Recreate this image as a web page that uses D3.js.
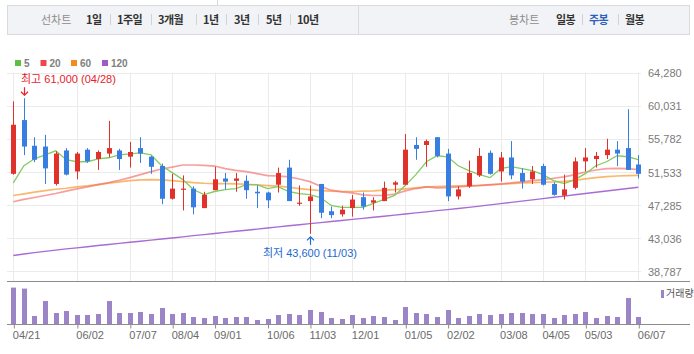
<!DOCTYPE html>
<html>
<head>
<meta charset="utf-8">
<script src="https://cdn.jsdelivr.net/npm/d3@7"></script>
<style>
body { margin: 0; background: #fff; }
svg { display: block; }
</style>
</head>
<body>
<div id="chart"></div>
<script>
var weeks = ['2023-04-21','2023-04-28','2023-05-04','2023-05-12','2023-05-19','2023-05-26','2023-06-02','2023-06-09','2023-06-16','2023-06-23',
    '2023-06-30','2023-07-07','2023-07-14','2023-07-21','2023-07-28','2023-08-04','2023-08-11','2023-08-18','2023-08-25','2023-09-01',
    '2023-09-08','2023-09-15','2023-09-22','2023-09-27','2023-10-06','2023-10-13','2023-10-20','2023-10-27','2023-11-03','2023-11-10',
    '2023-11-17','2023-11-24','2023-12-01','2023-12-08','2023-12-15','2023-12-22','2023-12-28','2024-01-05','2024-01-12','2024-01-19',
    '2024-01-26','2024-02-02','2024-02-08','2024-02-16','2024-02-23','2024-02-29','2024-03-08','2024-03-15','2024-03-22','2024-03-29',
    '2024-04-05','2024-04-12','2024-04-19','2024-04-26','2024-05-03','2024-05-10','2024-05-17','2024-05-24','2024-05-31','2024-06-07'];

var openP = [51300,58200,54900,54800,50000,54300,51600,54400,53200,53900,54300,53500,54600,53500,52300,48100,49300,49400,46900,49200,
    50700,50400,50400,49000,48900,49900,52100,47500,47800,50000,46500,46100,46900,48300,47600,47800,49900,49900,55000,55000,
    56000,53900,48400,49700,51100,54000,51600,53400,51400,50600,52300,50000,48500,49500,52900,53200,53700,54400,54600,52500];
var highP = [60600,61000,56000,56300,54200,54600,54100,54600,54300,58100,54500,55400,56000,53600,52600,51300,51100,49700,49000,52200,
    51400,51400,51100,49800,49000,52100,53100,49800,49800,50000,47100,47200,48600,48900,48300,50300,50400,56400,56000,55700,
    56000,54500,49700,53000,54600,54300,54100,55500,52000,52300,52600,50200,51200,53400,54600,54100,55800,55500,59600,53700];
var lowP = [51200,53700,52800,50000,49800,51100,50600,52700,51800,53400,51800,52100,52700,51300,47400,48000,46600,46100,46900,49200,
    49300,49000,48100,46900,46900,48900,47800,47200,43600,45600,45600,45800,45800,46700,46600,47800,48900,49900,53100,52200,
    53400,47800,48000,49500,50900,51200,50300,50600,49400,50000,49800,48500,48000,49300,51600,52100,53200,52300,51800,50700];
var closeP = [57600,54800,53100,52000,53900,51200,53900,52900,54100,54600,53200,54100,53900,52200,48100,49400,49400,47000,48600,50600,
    50300,50700,49200,48800,47900,51400,47800,47600,48400,46300,46000,46700,48000,47100,47900,49500,50200,54400,54500,55500,
    53600,48400,49300,51400,53600,51300,53400,51100,50300,51600,49900,48600,49300,52900,53400,53600,54400,53900,51800,51300];

// moving averages
var ma5 = [50130,52340,53230,53740,54250,53110,52850,52850,53230,53360,53740,53870,54000,53740,52340,51450,50560,49280,48640,49030,
    49280,49410,49920,49920,49410,49660,49030,48770,48640,48260,47240,46990,46990,46990,47500,48010,48520,49790,51190,52850,
    53620,53490,52340,51700,51190,50810,51960,52210,51960,51700,51190,50430,50050,50560,51320,52340,52850,53620,53490,53110];
var ma20 = [47710,48010,48260,48520,48770,49070,49370,49620,49920,50170,50470,50810,51190,51580,51920,52170,52430,52430,52380,52300,
    51960,51750,51580,51320,51070,51020,50900,50640,50300,49710,49200,48980,48860,48600,48520,48520,48690,49110,49410,49620,
    49490,49540,49620,49710,49790,49880,50000,50130,50260,50430,50560,50730,50900,51190,51530,51790,51960,52000,51960,51830];
var ma60 = [48520,48730,48940,49150,49320,49450,49620,49750,49920,50090,50260,50430,50510,50560,50510,50430,50300,50170,50090,50050,
    50050,50000,49960,49880,49790,49710,49580,49410,49280,49150,49070,49030,49030,49070,49110,49200,49280,49370,49490,49620,
    49660,49710,49750,49790,49830,49920,49960,50050,50130,50170,50220,50260,50340,50470,50640,50810,50940,51020,51070,51110];
var ma120 = [40810,41010,41190,41350,41510,41660,41800,41940,42090,42230,42370,42510,42650,42790,42930,43070,43210,43360,43500,43640,
    43780,43920,44060,44200,44340,44490,44630,44770,44900,45040,45180,45310,45450,45580,45720,45860,46000,46140,46280,46420,
    46570,46710,46850,46990,47160,47310,47480,47630,47800,47960,48120,48290,48440,48610,48770,48930,49090,49250,49420,49570];

// volume, thousand shares
var volume = [36700,35700,8300,23300,11300,13300,9300,9300,10300,23300,11300,11300,12300,10300,16300,10300,11300,7300,6300,8300,
    6300,7300,7300,4300,5300,9300,10300,9300,14300,12300,6300,5300,9300,6300,8300,7300,4300,17300,11300,10300,
    7300,14300,6300,8300,10300,9300,10300,11300,11300,10300,10300,6300,9300,10300,12300,6300,8300,7300,26300,7300];

var priceTicks = [38787, 43036, 47285, 51533, 55782, 60031, 64280];
var tickWeeks = ['2023-04-21','2023-06-02','2023-07-07','2023-08-04','2023-09-01','2023-10-06','2023-11-03',
    '2023-12-01','2024-01-05','2024-02-02','2024-03-08','2024-04-05','2024-05-03','2024-06-07'];

var maNames = ['5', '20', '60', '120'];
var maColors = ['#5fbf45', '#f0484a', '#f58a1f', '#9c5bcb'];
var lineColors = ['#82cc62', '#f26a6a', '#f7a03e', '#a463d2'];

var lineTabs = ['1일', '1주일', '3개월', '1년', '3년', '5년', '10년'];
var lineTabX = [86, 117, 158, 203, 234, 266, 297];
var candleTabs = ['일봉', '주봉', '월봉'];
var candleTabX = [556, 589, 625];

var UP = '#e0322b', DOWN = '#377ee0';
var FONT = '"Liberation Sans", "Noto Sans CJK KR", sans-serif';
var KFONT = '"Noto Sans CJK KR", sans-serif';

renderChart();

function renderChart() {
    var svg = d3.select('#chart')
        .append('svg')
        .attr('width', 694)
        .attr('height', 354);

    renderNav(svg);

    var x = d3.scalePoint()
        .domain(weeks)
        .range([13.3, 638.3]);
    var y = d3.scaleLinear()
        .domain([38787, 64280])
        .range([271.3, 72.7]);
    var yVol = d3.scaleLinear()
        .domain([0, 43000])
        .range([324.3, 281.3]);

    // legend
    var legend = svg.append('g')
        .selectAll('g')
        .data(maNames)
        .enter()
        .append('g')
        .attr('transform', (d, i) => 'translate(' + [15, 40.5, 71, 102][i] + ', 60)');
    legend.append('rect')
        .attr('width', 6)
        .attr('height', 6)
        .attr('fill', (d, i) => maColors[i]);
    legend.append('text')
        .attr('x', 9)
        .attr('y', 6.5)
        .attr('font-size', '10px')
        .attr('font-weight', 'bold')
        .attr('font-family', FONT)
        .attr('fill', '#808080')
        .text(d => d);

    // grid
    svg.append('g')
        .selectAll('line')
        .data(priceTicks)
        .enter()
        .append('line')
        .attr('x1', 7)
        .attr('x2', 641)
        .attr('y1', d => Math.round(y(d)) + 0.5)
        .attr('y2', d => Math.round(y(d)) + 0.5)
        .attr('stroke', '#ebebeb');

    svg.append('g')
        .selectAll('line')
        .data(tickWeeks)
        .enter()
        .append('line')
        .attr('x1', d => Math.round(x(d)) + 0.5)
        .attr('x2', d => Math.round(x(d)) + 0.5)
        .attr('y1', 72.5)
        .attr('y2', 281)
        .attr('stroke', '#ebebeb');

    var yAxis = svg.append('g')
        .attr('transform', 'translate(641, 0.5)')
        .call(d3.axisRight(y).tickValues(priceTicks).tickSize(0).tickPadding(7).tickFormat(d3.format(',')));
    yAxis.select('.domain').remove();
    yAxis.selectAll('text')
        .attr('font-size', '11px')
        .attr('font-family', FONT)
        .attr('fill', '#7a7a7a');

    // moving averages
    var series = [ma120, ma60, ma20, ma5];
    var seriesColor = [lineColors[3], lineColors[2], lineColors[1], lineColors[0]];
    var seriesWidth = [1.4, 1.7, 1.7, 1.3];
    var seriesOpacity = [0.95, 0.75, 0.65, 1];
    var line = d3.line()
        .x((d, i) => x(weeks[i]))
        .y(d => y(d));
    svg.append('g')
        .selectAll('path')
        .data(series)
        .enter()
        .append('path')
        .attr('d', d => line(d))
        .attr('fill', 'none')
        .attr('stroke', (d, i) => seriesColor[i])
        .attr('stroke-width', (d, i) => seriesWidth[i])
        .attr('stroke-opacity', (d, i) => seriesOpacity[i]);

    // candles
    var candles = svg.append('g')
        .selectAll('g')
        .data(weeks)
        .enter()
        .append('g');
    var col = (d, i) => closeP[i] >= openP[i] ? UP : DOWN;
    candles.append('line')
        .attr('x1', d => Math.round(x(d)) + 0.5)
        .attr('x2', d => Math.round(x(d)) + 0.5)
        .attr('y1', (d, i) => y(highP[i]))
        .attr('y2', (d, i) => y(lowP[i]))
        .attr('stroke', col);
    candles.append('rect')
        .attr('x', d => Math.round(x(d)) - 2)
        .attr('width', 5)
        .attr('y', (d, i) => y(Math.max(openP[i], closeP[i])))
        .attr('height', (d, i) => Math.max(1.2, Math.abs(y(openP[i]) - y(closeP[i]))))
        .attr('fill', col);

    // high / low marks
    var hi = d3.maxIndex(highP);
    var lo = d3.minIndex(lowP);
    markPoint(svg, x(weeks[hi]), y(highP[hi]), '최고 ' + d3.format(',')(highP[hi]) + ' (' + fmtDay(weeks[hi]) + ')', '#e8212a', true);
    markPoint(svg, x(weeks[lo]), y(lowP[lo]), '최저 ' + d3.format(',')(lowP[lo]) + ' (' + fmtDay(weeks[lo]) + ')', '#1b6ad0', false);

    // volume pane
    svg.append('line')
        .attr('x1', 7)
        .attr('x2', 690)
        .attr('y1', 281.5)
        .attr('y2', 281.5)
        .attr('stroke', '#8c8c8c');

    svg.append('g')
        .selectAll('rect')
        .data(volume)
        .enter()
        .append('rect')
        .attr('x', (d, i) => Math.round(x(weeks[i])) - 2)
        .attr('width', 5)
        .attr('y', d => yVol(d))
        .attr('height', d => yVol(0) - yVol(d))
        .attr('fill', '#9b85c6');

    svg.append('rect')
        .attr('x', 661)
        .attr('y', 290)
        .attr('width', 3)
        .attr('height', 8)
        .attr('fill', '#9b85c6');
    svg.append('text')
        .attr('x', 666)
        .attr('y', 297)
        .attr('font-size', '10px')
        .attr('font-family', KFONT)
        .attr('fill', '#555')
        .text('거래량');

    var xAxis = svg.append('g')
        .attr('transform', 'translate(0, 324.5)')
        .call(d3.axisBottom(x).tickValues(tickWeeks).tickSize(4).tickPadding(3).tickFormat(fmtDay));
    xAxis.select('.domain').remove();
    xAxis.selectAll('line')
        .attr('transform', 'translate(0.5, 0)')
        .attr('stroke', '#8c8c8c');
    xAxis.selectAll('text')
        .attr('text-anchor', 'start')
        .attr('x', -1)
        .attr('font-size', '11px')
        .attr('font-family', FONT)
        .attr('fill', '#6a6a6a');

    svg.append('line')
        .attr('x1', 7)
        .attr('x2', 690)
        .attr('y1', 324.5)
        .attr('y2', 324.5)
        .attr('stroke', '#8c8c8c');
}

function markPoint(svg, cx, cy, label, color, above) {
    var g = svg.append('g');
    var ax = Math.round(cx) + 0.5;
    var dir = above ? -1 : 1;
    var tip = cy + 3 * dir;
    var tail = cy + 11 * dir;
    g.append('line')
        .attr('x1', ax).attr('x2', ax)
        .attr('y1', tip).attr('y2', tail)
        .attr('stroke', color)
        .attr('stroke-width', 1.2);
    g.append('path')
        .attr('d', 'M' + (ax - 3.5) + ',' + (tip + 3.5 * dir) + 'L' + ax + ',' + tip + 'L' + (ax + 3.5) + ',' + (tip + 3.5 * dir))
        .attr('fill', 'none')
        .attr('stroke', color)
        .attr('stroke-width', 1.2);
    var t = g.append('text')
        .attr('y', above ? tail - 4 : tail + 12)
        .attr('font-size', '11px')
        .attr('font-family', FONT)
        .attr('fill', color)
        .text(label);
    var w = t.node().getComputedTextLength();
    t.attr('x', Math.max(21, cx - w / 2));
}

function fmtDay(d) {
    return d.slice(5).replace('-', '/');
}

function renderNav(svg) {
    svg.append('line')
        .attr('x1', 217.5).attr('x2', 217.5)
        .attr('y1', 0).attr('y2', 5)
        .attr('stroke', '#d5d7dc');
    svg.append('rect')
        .attr('x', 7.5)
        .attr('y', 5.5)
        .attr('width', 682)
        .attr('height', 29)
        .attr('fill', '#f2f3f6')
        .attr('stroke', '#d9dbe0');
    svg.append('line')
        .attr('x1', 358.5).attr('x2', 358.5)
        .attr('y1', 5.5).attr('y2', 34.5)
        .attr('stroke', '#d9dbe0');

    var nav = svg.append('g')
        .attr('font-family', KFONT)
        .attr('font-size', '11px');
    nav.append('text')
        .attr('x', 41).attr('y', 24)
        .attr('fill', '#8d8d8d')
        .text('선차트');
    nav.append('text')
        .attr('x', 509).attr('y', 24)
        .attr('fill', '#8d8d8d')
        .text('봉차트');
    nav.selectAll('.lt')
        .data(lineTabs)
        .enter()
        .append('text')
        .attr('class', 'lt')
        .attr('x', (d, i) => lineTabX[i])
        .attr('y', 24)
        .attr('font-weight', 'bold')
        .attr('letter-spacing', '-0.5px')
        .attr('fill', '#333')
        .text(d => d);
    nav.selectAll('.ct')
        .data(candleTabs)
        .enter()
        .append('text')
        .attr('class', 'ct')
        .attr('x', (d, i) => candleTabX[i])
        .attr('y', 24)
        .attr('font-weight', 'bold')
        .attr('letter-spacing', '-0.5px')
        .attr('fill', d => d == '주봉' ? '#2c5fbd' : '#333')
        .text(d => d);
    var seps = [110.5, 151.5, 196.5, 226.5, 258.5, 290.5, 582.5, 618.5];
    nav.selectAll('.sep')
        .data(seps)
        .enter()
        .append('line')
        .attr('class', 'sep')
        .attr('x1', d => d).attr('x2', d => d)
        .attr('y1', 14).attr('y2', 25)
        .attr('stroke', '#d0d2d6');
}
</script>
</body>
</html>
